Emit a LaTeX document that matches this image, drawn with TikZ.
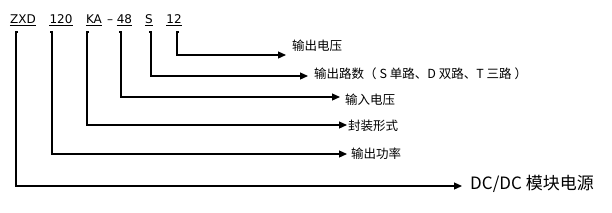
\documentclass[tikz,border=0pt]{standalone}
\usepackage{fontspec}
\newfontfamily\cjk{Noto Sans CJK SC}
\newfontfamily\lat{DejaVu Sans}
\usetikzlibrary{arrows.meta}
\tikzset{c/.style={inner sep=0pt,anchor=base,font=\lat\fontsize{12}{14}\selectfont},
 l/.style={inner sep=0pt,anchor=west,font=\cjk\fontsize{12.5}{15}\selectfont},
 ar/.style={line width=1.2pt,-{Triangle[length=8pt,width=7pt]}},ul/.style={line width=0.9pt}}
\begin{document}
\begin{tikzpicture}[x=1pt,y=-1pt]
\useasboundingbox (0,0) rectangle (612,212);
% code digits
\node[c](zxd) at (23,23.5){ZXD};\node[c](pw) at (61,23.5){120};\node[c](ka) at (94,23.5){KA};
\node[c](dash) at (110,23.5){\textendash};\node[c](vin) at (124.5,23.5){48};\node[c](s) at (149,23.5){S};\node[c](vo) at (174,23.5){12};
\foreach \t in {zxd,pw,ka,vin,s,vo}\draw[ul]([yshift=-2pt]\t.base west)--([yshift=-2pt]\t.base east);
% meanings
\node[l](l6) at (292,46){输出电压};\node[l](l5) at (314,74){输出路数（\hspace{3pt}S 单路、D 双路、T 三路\hspace{3pt}）};
\node[l](l4) at (345,100){输入电压};\node[l](l3) at (348,126){封装形式};\node[l](l2) at (351,154){输出功率};
\node[l,font=\cjk\fontsize{17}{20}\selectfont](l1) at (470,183.5){DC/DC 模块电源};
\foreach \i/\x/\d/\y/\e in {1/16/2/186/462,2/52/-2/154/347,3/87/2/125/347,4/121/-2/97/340,5/151/-2/76/308,6/177/2/55/286}{
 \coordinate(b\i) at (\x,32);\coordinate(t\i) at (\e,\y);\draw[ar]([xshift=\d pt]b\i)--(b\i)|-(t\i);}
\end{tikzpicture}
\end{document}
